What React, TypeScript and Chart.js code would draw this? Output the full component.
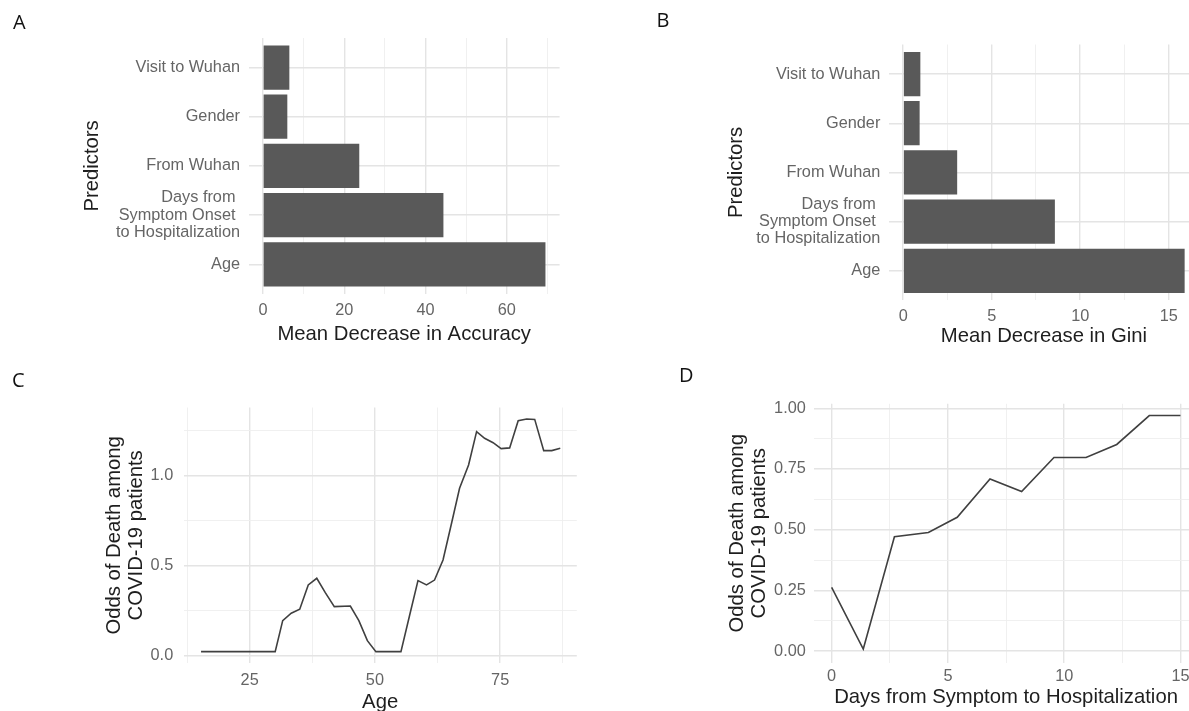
import React, { useEffect, useRef } from "react";
import { Chart, registerables } from "chart.js";

Chart.register(...registerables);
Chart.defaults.font.family = "'Liberation Sans', Arial, Helvetica, sans-serif";

// ---------- DATA ----------
const PREDICTORS: (string | string[])[] = [
  "Visit to Wuhan",
  "Gender",
  "From Wuhan",
  ["Days from ", "Symptom Onset ", "to Hospitalization"],
  "Age",
];
const ACCURACY = [6.5, 6.0, 23.7, 44.4, 69.5];
const GINI = [0.97, 0.93, 3.05, 8.57, 15.9];

const ACC_MAJOR = [0, 20, 40, 60];
const ACC_MINOR = [10, 30, 50, 70];
const GINI_MAJOR = [0, 5, 10, 15];
const GINI_MINOR = [2.5, 7.5, 12.5];
const PRED_TICKS = [0, 1, 2, 3, 4];

const AGE = [
  15.3, 30.1, 31.6, 33.3, 35.0, 36.7, 38.4, 40.1, 41.9, 45.1, 46.8, 48.5, 50.2,
  55.2, 56.9, 58.6, 60.3, 61.9, 63.6, 65.3, 66.9, 68.7, 70.3, 71.9, 73.6, 75.2,
  76.9, 78.6, 80.3, 81.9, 83.7, 85.3, 87.0,
];
const ODDS_AGE = [
  0.024, 0.024, 0.196, 0.237, 0.259, 0.394, 0.431, 0.351, 0.274, 0.277, 0.196,
  0.085, 0.024, 0.024, 0.222, 0.418, 0.394, 0.421, 0.532, 0.736, 0.93, 1.059,
  1.244, 1.207, 1.183, 1.15, 1.154, 1.305, 1.314, 1.312, 1.139, 1.139, 1.152,
];
const AGE_MAJOR = [25, 50, 75];
const AGE_MINOR = [12.5, 37.5, 62.5, 87.5];
const ODDS_C_MAJOR = [0, 0.5, 1.0];
const ODDS_C_MINOR = [0.25, 0.75, 1.25];

const DAYS = [0, 1.36, 2.7, 4.16, 5.4, 6.81, 8.17, 9.56, 10.94, 12.26, 13.66, 15.0];
const ODDS_DAYS = [0.262, 0.008, 0.471, 0.488, 0.551, 0.709, 0.657, 0.797, 0.797, 0.851, 0.97, 0.97];
const DAYS_MAJOR = [0, 5, 10, 15];
const DAYS_MINOR = [2.5, 7.5, 12.5];
const ODDS_D_MAJOR = [0, 0.25, 0.5, 0.75, 1.0];
const ODDS_D_MINOR = [0.125, 0.375, 0.625, 0.875];

// ---------- STYLE ----------
const TICK_COLOR = "#656565";
const TITLE_COLOR = "#1e1e1e";
const GRID_MAJOR = "#e4e4e4";
const GRID_MINOR = "#eeeeee";
const BAR_COLOR = "#595959";
const LINE_COLOR = "#404040";
const TICK_SIZE = 16.3;
const TITLE_SIZE = 20.3;

type Box = { left: number; top: number; width: number; height: number };
type Area = { left: number; top: number; right: number; bottom: number };
type AxisDef = {
  min: number;
  max: number;
  major: number[];
  minor: number[];
  fmt: (v: number) => string | string[];
  title: string | string[];
  tickPad: number;
  titleCenter: number;
  titleLineHeight: number;
  reverse?: boolean;
};

function gridOpts(major: number[]) {
  return {
    drawTicks: false,
    offset: false,
    color: (ctx: any) => (major.includes(ctx.tick?.value) ? GRID_MAJOR : GRID_MINOR),
    lineWidth: (ctx: any) => (major.includes(ctx.tick?.value) ? 1.4 : 0.9),
  };
}

function allTicks(a: AxisDef) {
  return [...a.major, ...a.minor].sort((p, q) => p - q);
}

function buildScales(box: Box, area: Area, x: AxisDef, y: AxisDef) {
  const xAxisHeight = box.top + box.height - area.bottom;
  const yAxisWidth = area.left - box.left;
  return {
    x: {
      type: "linear",
      offset: false,
      min: x.min,
      max: x.max,
      afterBuildTicks: (s: any) => {
        s.ticks = allTicks(x).map((v) => ({ value: v }));
      },
      afterFit: (s: any) => {
        s.height = xAxisHeight;
      },
      grid: gridOpts(x.major),
      border: { display: false },
      ticks: {
        autoSkip: false,
        maxRotation: 0,
        minRotation: 0,
        padding: x.tickPad,
        color: TICK_COLOR,
        font: { size: TICK_SIZE, lineHeight: 1.2 },
        callback: (v: number) => (x.major.includes(v) ? x.fmt(v) : ""),
      },
      title: {
        display: true,
        text: x.title,
        color: TITLE_COLOR,
        font: { size: TITLE_SIZE, lineHeight: x.titleLineHeight },
        padding: {
          top: 0,
          bottom: box.top + box.height - x.titleCenter - (TITLE_SIZE * x.titleLineHeight) / 2,
        },
      },
    },
    y: {
      type: "linear",
      offset: false,
      min: y.min,
      max: y.max,
      reverse: !!y.reverse,
      afterBuildTicks: (s: any) => {
        s.ticks = allTicks(y).map((v) => ({ value: v }));
      },
      afterFit: (s: any) => {
        s.width = yAxisWidth;
      },
      grid: gridOpts(y.major),
      border: { display: false },
      ticks: {
        autoSkip: false,
        padding: y.tickPad,
        color: TICK_COLOR,
        font: { size: TICK_SIZE, lineHeight: 1.05 },
        callback: (v: number) => (y.major.includes(v) ? y.fmt(v) : ""),
      },
      title: {
        display: true,
        text: y.title,
        color: TITLE_COLOR,
        font: { size: TITLE_SIZE, lineHeight: y.titleLineHeight },
        padding: {
          top: y.titleCenter - box.left - (TITLE_SIZE * y.titleLineHeight) / 2,
          bottom: 0,
        },
      },
    },
  };
}

function baseOptions(box: Box, area: Area, scales: any, extra: any = {}) {
  return {
    responsive: false,
    animation: false,
    events: [],
    devicePixelRatio: 1,
    layout: {
      padding: {
        left: 0,
        bottom: 0,
        top: area.top - box.top,
        right: box.left + box.width - area.right,
      },
    },
    plugins: { legend: { display: false }, tooltip: { enabled: false } },
    scales,
    ...extra,
  };
}

type PanelSpec = { box: Box; config: () => any };

function predictorAxis(pad: number, titleCenter: number): AxisDef {
  return {
    min: -0.6,
    max: 4.6,
    reverse: true,
    major: PRED_TICKS,
    minor: [],
    fmt: (v) => PREDICTORS[v] as any,
    title: "Predictors",
    tickPad: pad,
    titleCenter,
    titleLineHeight: 1.2,
  };
}

function barDataset(values: number[]) {
  return {
    data: values.map((v, i) => ({ x: v, y: i })),
    backgroundColor: BAR_COLOR,
    borderWidth: 0,
    categoryPercentage: 0.9,
    barPercentage: 1,
  };
}

function lineDataset(xs: number[], ys: number[]) {
  return {
    data: xs.map((a, i) => ({ x: a, y: ys[i] })),
    borderColor: LINE_COLOR,
    borderWidth: 1.6,
    pointRadius: 0,
    tension: 0,
    fill: false,
  };
}

// Panel A
const boxA: Box = { left: 0, top: 0, width: 590, height: 350 };
const areaA: Area = { left: 248.8, top: 38, right: 559.6, bottom: 293.8 };
const panelA: PanelSpec = {
  box: boxA,
  config: () => ({
    type: "bar",
    data: { datasets: [barDataset(ACCURACY)] },
    options: baseOptions(
      boxA,
      areaA,
      buildScales(
        boxA,
        areaA,
        {
          min: -3.475,
          max: 72.98,
          major: ACC_MAJOR,
          minor: ACC_MINOR,
          fmt: (v) => String(v),
          title: "Mean Decrease in Accuracy",
          tickPad: 6.6,
          titleCenter: 334,
          titleLineHeight: 1.2,
        },
        predictorAxis(8.8, 92.7)
      ),
      { indexAxis: "y" }
    ),
  }),
};

// Panel B
const boxB: Box = { left: 595, top: 0, width: 615, height: 350 };
const areaB: Area = { left: 889.1, top: 44.5, right: 1198.8, bottom: 300.3 };
const panelB: PanelSpec = {
  box: boxB,
  config: () => ({
    type: "bar",
    data: { datasets: [barDataset(GINI)] },
    options: baseOptions(
      boxB,
      areaB,
      buildScales(
        boxB,
        areaB,
        {
          min: -0.795,
          max: 16.7,
          major: GINI_MAJOR,
          minor: GINI_MINOR,
          fmt: (v) => String(v),
          title: "Mean Decrease in Gini",
          tickPad: 6.1,
          titleCenter: 336,
          titleLineHeight: 1.2,
        },
        predictorAxis(8.8, 736.3)
      ),
      { indexAxis: "y" }
    ),
  }),
};

// Panel C
const boxC: Box = { left: 0, top: 360, width: 590, height: 355 };
const areaC: Area = { left: 183.5, top: 407.5, right: 576.8, bottom: 663.2 };
const panelC: PanelSpec = {
  box: boxC,
  config: () => ({
    type: "line",
    data: { datasets: [lineDataset(AGE, ODDS_AGE)] },
    options: baseOptions(
      boxC,
      areaC,
      buildScales(
        boxC,
        areaC,
        {
          min: 11.8,
          max: 90.3,
          major: AGE_MAJOR,
          minor: AGE_MINOR,
          fmt: (v) => String(v),
          title: "Age",
          tickPad: 7.3,
          titleCenter: 702.4,
          titleLineHeight: 1.2,
        },
        {
          min: -0.04,
          max: 1.378,
          major: ODDS_C_MAJOR,
          minor: ODDS_C_MINOR,
          fmt: (v) => v.toFixed(1),
          title: ["Odds of Death among", "COVID-19 patients"],
          tickPad: 10.3,
          titleCenter: 114.5,
          titleLineHeight: 1.1,
        }
      )
    ),
  }),
};

// Panel D
const boxD: Box = { left: 595, top: 360, width: 615, height: 349 };
const areaD: Area = { left: 814.2, top: 403.8, right: 1197.9, bottom: 662.8 };
const panelD: PanelSpec = {
  box: boxD,
  config: () => ({
    type: "line",
    data: { datasets: [lineDataset(DAYS, ODDS_DAYS)] },
    options: baseOptions(
      boxD,
      areaD,
      buildScales(
        boxD,
        areaD,
        {
          min: -0.75,
          max: 15.75,
          major: DAYS_MAJOR,
          minor: DAYS_MINOR,
          fmt: (v) => String(v),
          title: "Days from Symptom to Hospitalization",
          tickPad: 4,
          titleCenter: 697.3,
          titleLineHeight: 1.2,
        },
        {
          min: -0.0485,
          max: 1.0185,
          major: ODDS_D_MAJOR,
          minor: ODDS_D_MINOR,
          fmt: (v) => v.toFixed(2),
          title: ["Odds of Death among", "COVID-19 patients"],
          tickPad: 8.4,
          titleCenter: 737,
          titleLineHeight: 1.1,
        }
      )
    ),
  }),
};

function Panel({ spec }: { spec: PanelSpec }) {
  const ref = useRef<HTMLCanvasElement>(null);
  useEffect(() => {
    if (!ref.current) return;
    const chart = new Chart(ref.current, spec.config());
    return () => chart.destroy();
  }, [spec]);
  const { left, top, width, height } = spec.box;
  return (
    <canvas
      ref={ref}
      width={width}
      height={height}
      style={{ position: "absolute", left, top, width, height }}
    />
  );
}

const LETTERS = [
  { t: "A", left: 13, top: 11.5 },
  { t: "B", left: 656.5, top: 10 },
  { t: "C", left: 12, top: 370 },
  { t: "D", left: 679, top: 365 },
];

export default function App() {
  return (
    <div
      style={{
        position: "fixed",
        left: 0,
        top: 0,
        width: 1189,
        height: 711,
        overflow: "hidden",
        background: "#ffffff",
      }}
    >
      {[panelA, panelB, panelC, panelD].map((p, i) => (
        <Panel key={i} spec={p} />
      ))}
      {LETTERS.map((l) => (
        <div
          key={l.t}
          style={{
            position: "absolute",
            left: l.left,
            top: l.top,
            fontFamily: "'Open Sans', sans-serif",
            fontSize: 20,
            lineHeight: "20px",
            color: "#111",
          }}
        >
          {l.t}
        </div>
      ))}
    </div>
  );
}
